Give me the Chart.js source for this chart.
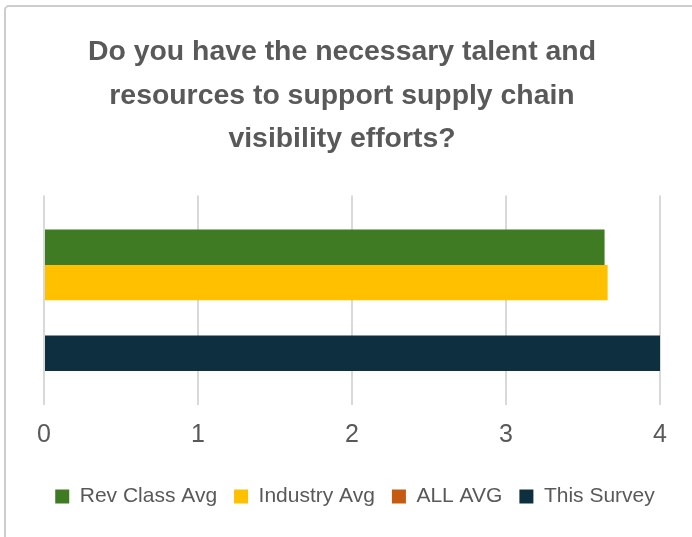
<!DOCTYPE html>
<html>
<head>
<meta charset="utf-8">
<script src="https://cdn.jsdelivr.net/npm/chart.js@4/dist/chart.umd.min.js"></script>
<style>
  html, body { margin: 0; padding: 0; background: #ffffff; }
  body { width: 692px; height: 537px; overflow: hidden; position: relative; }
  .frame {
    position: absolute; left: 4px; top: 5px; width: 700px; height: 536px;
    border: 2px solid #cdcdcd; border-radius: 5px; box-sizing: border-box;
  }
  .wrap { position: absolute; left: 0; top: 0; width: 692px; height: 537px; }
</style>
</head>
<body>
<div class="frame"></div>
<div class="wrap"><canvas id="chart" width="692" height="537"></canvas></div>
<script>
// Survey question and the answer scale
const titleLines = [
  'Do you have the necessary talent and',
  'resources to support supply chain',
  'visibility efforts?'
];
const categories = ['Talent and resources'];
const xTicks = [0, 1, 2, 3, 4];

// Average scores per comparison group
const seriesNames = ['Rev Class Avg', 'Industry Avg', 'ALL AVG', 'This Survey'];
const revClassAvg = [3.64];
const industryAvg = [3.66];
const allAvg = [null];
const thisSurvey = [4];

const seriesColors = ['#3e7b23', '#ffc000', '#c55a11', '#0e2f40'];
const seriesValues = [revClassAvg, industryAvg, allAvg, thisSurvey];

const datasets = seriesNames.map((name, i) => ({
  label: name,
  data: seriesValues[i],
  backgroundColor: seriesColors[i],
  borderWidth: 0,
  barPercentage: 1,
  categoryPercentage: 0.675
}));

// Nudge the title slightly left and the legend slightly right of centre
const blockOffsets = {
  id: 'blockOffsets',
  afterLayout(chart) {
    if (chart.titleBlock) { chart.titleBlock.left -= 4; chart.titleBlock.right -= 4; }
    if (chart.legend) { chart.legend.left += 9; chart.legend.right += 9; }
  }
};

new Chart(document.getElementById('chart'), {
  type: 'bar',
  data: { labels: categories, datasets },
  plugins: [blockOffsets],
  options: {
    indexAxis: 'y',
    responsive: false,
    animation: false,
    layout: { padding: { left: 20, right: 20, top: 0, bottom: 20 } },
    plugins: {
      title: {
        display: true,
        text: titleLines,
        color: '#595959',
        font: { family: '"Liberation Sans", Arial, sans-serif', size: 28.4, weight: 'bold', lineHeight: 1.52 },
        padding: { top: 31, bottom: 35 }
      },
      legend: {
        position: 'bottom',
        labels: {
          color: '#595959',
          font: { family: '"Liberation Sans", Arial, sans-serif', size: 21 },
          boxWidth: 14,
          boxHeight: 14,
          padding: 17
        }
      },
      tooltip: { enabled: false }
    },
    scales: {
      x: {
        min: 0,
        max: 4,
        afterBuildTicks: (scale) => { scale.ticks = xTicks.map(v => ({ value: v })); },
        afterFit: (scale) => { scale.height += 4; },
        grid: { color: '#d9d9d9', lineWidth: 2, drawTicks: false },
        border: { display: false },
        ticks: {
          color: '#595959',
          padding: 15,
          font: { family: '"Liberation Sans", Arial, sans-serif', size: 25 }
        }
      },
      y: {
        grid: { display: false },
        border: { display: false },
        ticks: { display: false },
        afterFit: (scale) => { scale.width = 24; }
      },
      yRight: {
        position: 'right',
        grid: { display: false },
        border: { display: false },
        ticks: { display: false },
        afterFit: (scale) => { scale.width = 12; }
      }
    }
  }
});
</script>
</body>
</html>
